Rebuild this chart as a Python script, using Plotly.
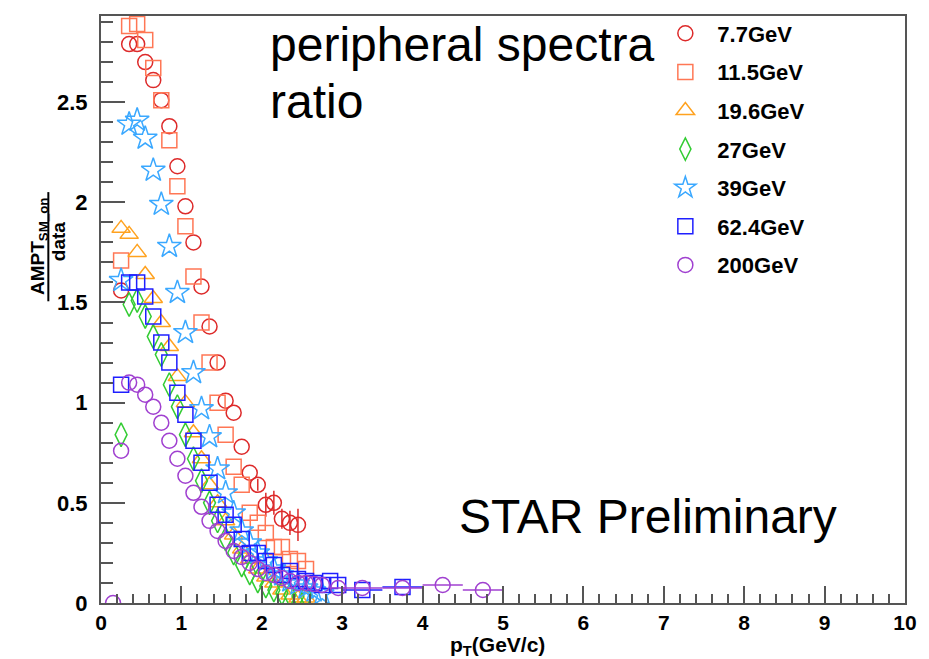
import plotly.graph_objects as go

# ---------------- data ----------------
pt_77 = [0.25, 0.35, 0.45, 0.55, 0.65, 0.75, 0.85, 0.95, 1.05, 1.15, 1.25, 1.35,
         1.45, 1.55, 1.65, 1.75, 1.85, 1.95, 2.05, 2.15, 2.25, 2.35, 2.45]
r_77 = [1.56, 2.79, 2.79, 2.70, 2.61, 2.51, 2.38, 2.18, 1.98, 1.80, 1.58, 1.38,
        1.20, 1.01, 0.95, 0.78, 0.65, 0.59, 0.49, 0.50, 0.42, 0.40, 0.39]
e_77 = [0, 0, 0, 0, 0, 0, 0, 0, 0, 0, 0, 0,
        0, 0, 0, 0, 0, 0.03, 0.06, 0.06, 0.05, 0.06, 0.08]

pt_115 = [0.25, 0.35, 0.45, 0.55, 0.65, 0.75, 0.85, 0.95, 1.05, 1.15, 1.25, 1.35,
          1.45, 1.55, 1.65, 1.75, 1.85, 1.95, 2.05, 2.15, 2.25, 2.35, 2.45, 2.55]
r_115 = [1.71, 2.88, 2.89, 2.81, 2.67, 2.51, 2.31, 2.08, 1.88, 1.63, 1.40, 1.20,
         1.00, 0.84, 0.68, 0.59, 0.45, 0.40, 0.35, 0.28, 0.28, 0.22, 0.21, 0.17]

pt_196 = [0.25, 0.35, 0.45, 0.55, 0.65, 0.75, 0.85, 0.95, 1.05, 1.15, 1.25, 1.35,
          1.45, 1.55, 1.65, 1.75, 1.85, 1.95, 2.05, 2.15, 2.25, 2.35, 2.45, 2.55]
r_196 = [1.87, 1.84, 1.75, 1.64, 1.52, 1.40, 1.28, 1.13, 1.00, 0.85, 0.72, 0.59,
         0.50, 0.41, 0.34, 0.27, 0.22, 0.17, 0.13, 0.10, 0.065, 0.04, 0.025, 0.025]

pt_27 = [0.25, 0.35, 0.45, 0.55, 0.65, 0.75, 0.85, 0.95, 1.05, 1.15, 1.25, 1.35,
         1.45, 1.55, 1.65, 1.75, 1.85, 1.95, 2.05, 2.15, 2.25, 2.35, 2.45, 2.55]
r_27 = [0.84, 1.49, 1.51, 1.43, 1.33, 1.24, 1.09, 0.98, 0.84, 0.72, 0.61, 0.50,
        0.41, 0.32, 0.25, 0.19, 0.15, 0.11, 0.085, 0.065, 0.05, 0.04, 0.035, 0.035]

pt_39 = [0.25, 0.35, 0.45, 0.55, 0.65, 0.75, 0.85, 0.95, 1.05, 1.15, 1.25, 1.35,
         1.45, 1.55, 1.65, 1.75, 1.85, 1.95, 2.05, 2.15, 2.25, 2.35, 2.45, 2.55,
         2.65, 2.75]
r_39 = [1.61, 2.39, 2.41, 2.32, 2.16, 1.99, 1.78, 1.55, 1.35, 1.15, 0.97, 0.83,
        0.67, 0.55, 0.45, 0.36, 0.30, 0.25, 0.21, 0.17, 0.14, 0.11, 0.095, 0.075,
        0.06, 0.045]

pt_624 = [0.25, 0.35, 0.45, 0.55, 0.65, 0.75, 0.85, 0.95, 1.05, 1.15, 1.25, 1.35,
          1.45, 1.55, 1.65, 1.75, 1.85, 1.95, 2.05, 2.15, 2.25, 2.35, 2.45, 2.55,
          2.65, 2.75, 2.85, 2.95, 3.25, 3.75]
r_624 = [1.09, 1.60, 1.60, 1.53, 1.43, 1.30, 1.20, 1.05, 0.94, 0.81, 0.70, 0.60,
         0.49, 0.44, 0.39, 0.32, 0.25, 0.25, 0.21, 0.19, 0.14, 0.16, 0.12, 0.11,
         0.10, 0.09, 0.11, 0.09, 0.065, 0.08]
ex_624 = [0] * 28 + [0.25, 0.25]

pt_200 = [0.15, 0.25, 0.35, 0.45, 0.55, 0.65, 0.75, 0.85, 0.95, 1.05, 1.15, 1.25,
          1.35, 1.45, 1.55, 1.65, 1.75, 1.85, 1.95, 2.05, 2.15, 2.25, 2.35, 2.45,
          2.55, 2.65, 2.75, 2.95, 3.25, 3.75, 4.25, 4.75]
r_200 = [0.0, 0.76, 1.10, 1.09, 1.04, 0.98, 0.90, 0.81, 0.72, 0.635, 0.55, 0.48,
         0.41, 0.36, 0.31, 0.26, 0.23, 0.20, 0.17, 0.15, 0.14, 0.125, 0.11, 0.10,
         0.10, 0.095, 0.09, 0.075, 0.075, 0.075, 0.09, 0.065]
ex_200 = [0] * 27 + [0.1, 0.25, 0.25, 0.25, 0.25]

x_ticks = [0, 1, 2, 3, 4, 5, 6, 7, 8, 9, 10]
y_ticks = [0, 0.5, 1, 1.5, 2, 2.5]
y_tick_text = ["0", "0.5", "1", "1.5", "2", "2.5"]

series = [
    ("7.7GeV", pt_77, r_77, None, e_77, "circle-open", "#DD2A2A", 15),
    ("11.5GeV", pt_115, r_115, None, None, "square-open", "#FF7755", 15),
    ("19.6GeV", pt_196, r_196, None, None, "triangle-up-open", "#FFA21F", 16),
    ("27GeV", pt_27, r_27, None, None, "diamond-tall-open", "#33CC33", 17),
    ("39GeV", pt_39, r_39, None, None, "star-open", "#3AA8FF", 18),
    ("62.4GeV", pt_624, r_624, ex_624, None, "square-open", "#1F1FFF", 15),
    ("200GeV", pt_200, r_200, ex_200, None, "circle-open", "#A040D0", 15),
]

FONT = "Liberation Sans, Arial, sans-serif"

fig = go.Figure()
for i, (name, xs, ys, ex, ey, sym, col, sz) in enumerate(series):
    kw = {}
    if ex is not None:
        kw["error_x"] = dict(type="data", array=ex, visible=True, color=col,
                             thickness=1.5, width=0)
    if ey is not None:
        kw["error_y"] = dict(type="data", array=ey, visible=True, color=col,
                             thickness=1.5, width=0)
    fig.add_trace(go.Scatter(
        x=xs, y=ys, mode="markers", name=name, legendgroup=f"g{i}",
        marker=dict(symbol=sym, size=sz, color=col, line=dict(color=col, width=1.5)),
        **kw))

fig.update_layout(
    width=929, height=659,
    margin=dict(l=101, r=19, t=15, b=56),
    paper_bgcolor="white", plot_bgcolor="white",
    font=dict(family=FONT, color="black"),
    showlegend=True,
    legend=dict(x=0.687, y=1.006, xanchor="left", yanchor="top",
                bgcolor="rgba(0,0,0,0)", borderwidth=0,
                font=dict(family=FONT, size=22, weight="bold", color="black"),
                itemwidth=54, tracegroupgap=7, itemclick=False),
    xaxis=dict(range=[0, 10], tickmode="array", tickvals=x_ticks,
               ticks="inside", ticklen=17, tickwidth=2, tickcolor="#555",
               minor=dict(dtick=0.2, ticks="inside", ticklen=9, tickwidth=1.5, tickcolor="#555"),
               showgrid=False, zeroline=False, showline=True, linecolor="#555",
               linewidth=2, mirror=True,
               tickfont=dict(family=FONT, size=21, weight="bold", color="black")),
    yaxis=dict(range=[0, 2.93], tickmode="array", tickvals=y_ticks, ticktext=y_tick_text,
               ticks="inside", ticklen=24, tickwidth=2, tickcolor="#555",
               minor=dict(dtick=0.1, ticks="inside", ticklen=12, tickwidth=1.5, tickcolor="#555"),
               showgrid=False, zeroline=False, showline=True, linecolor="#555",
               linewidth=2, mirror=True, ticklabelstandoff=7,
               tickfont=dict(family=FONT, size=22, weight="bold", color="black")),
)

# x-axis title
fig.add_annotation(x=0.493, y=-0.0731, xref="paper", yref="paper",
                   text="<b>p<sub>T</sub>(GeV/c)</b>", showarrow=False,
                   xanchor="center", yanchor="middle",
                   font=dict(family=FONT, size=21, color="black"))
# y-axis title as a fraction
fig.add_annotation(x=-0.078, y=0.607, xref="paper", yref="paper",
                   text="<b>AMPT<sub>SM_on</sub></b>", textangle=-90, showarrow=False,
                   xanchor="center", yanchor="middle",
                   font=dict(family=FONT, size=19, color="black"))
fig.add_annotation(x=-0.053, y=0.617, xref="paper", yref="paper",
                   text="<b>data</b>", textangle=-90, showarrow=False,
                   xanchor="center", yanchor="middle",
                   font=dict(family=FONT, size=19, color="black"))
fig.add_shape(type="line", xref="paper", yref="paper",
              x0=-0.0655, x1=-0.0655, y0=0.514, y1=0.700,
              line=dict(color="black", width=2))

# in-plot labels
fig.add_annotation(x=2.08, y=2.93, xref="x", yref="y",
                   text="peripheral spectra", showarrow=False, align="left",
                   xanchor="left", yanchor="top",
                   font=dict(family=FONT, size=48, color="black"))
fig.add_annotation(x=2.08, y=2.645, xref="x", yref="y",
                   text="ratio", showarrow=False, align="left",
                   xanchor="left", yanchor="top",
                   font=dict(family=FONT, size=48, color="black"))
fig.add_annotation(x=4.43, y=0.575, xref="x", yref="y",
                   text="STAR Preliminary", showarrow=False, align="left",
                   xanchor="left", yanchor="top",
                   font=dict(family=FONT, size=48, color="black"))

fig.write_html("out.html")
